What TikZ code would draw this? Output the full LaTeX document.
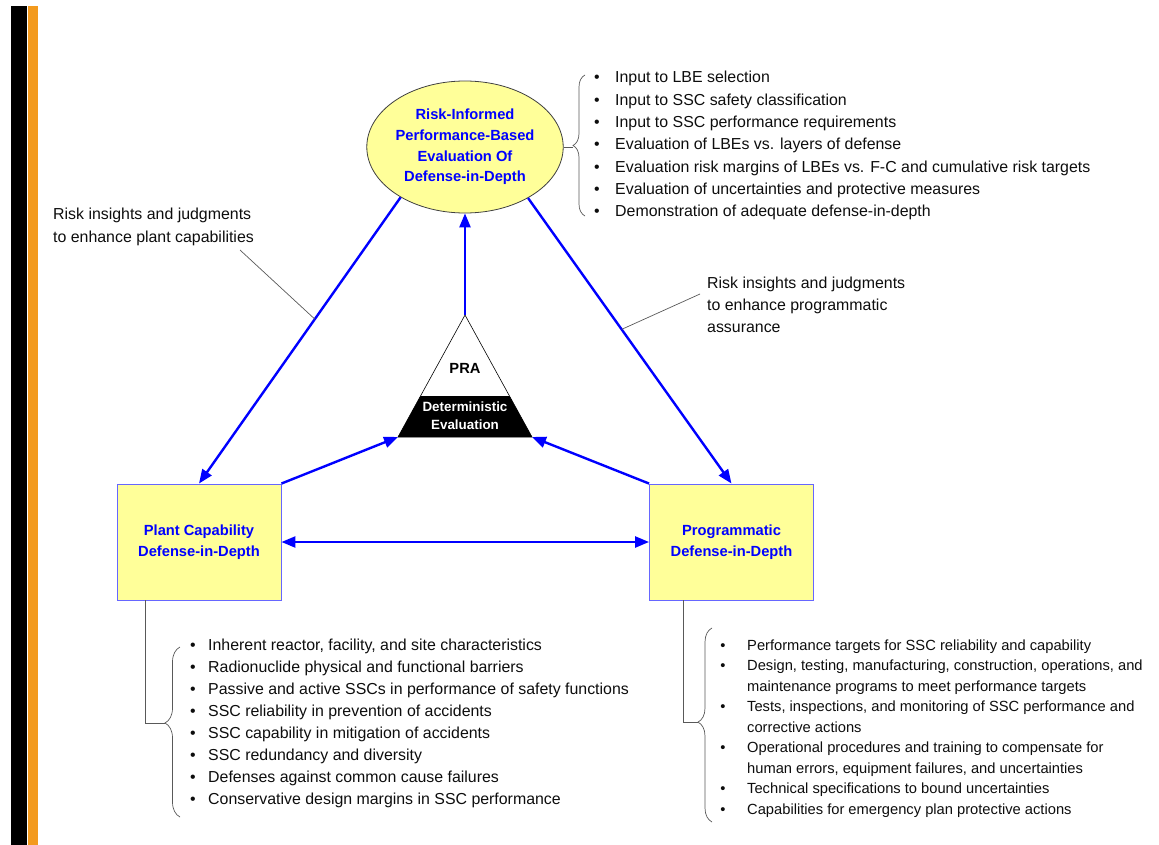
\documentclass[tikz,border=0pt]{standalone}
\usepackage{fontspec}
\setmainfont{Liberation Sans}
\usetikzlibrary{arrows.meta,calc,decorations.pathreplacing,shapes.geometric}
\definecolor{pale}{HTML}{FFFF99}
\definecolor{bblue}{HTML}{0000FF}
\definecolor{boxedge}{HTML}{6666FF}
\definecolor{orangebar}{HTML}{F39A1E}
\definecolor{txt}{HTML}{0D0D0D}
\begin{document}
\begin{tikzpicture}[x=1pt,y=-1pt,
  arr/.style={bblue, line width=2.4pt, -{Triangle[length=14pt,width=11pt]}},
  dblarr/.style={bblue, line width=2.4pt, {Triangle[length=14pt,width=11pt]}-{Triangle[length=14pt,width=11pt]}},
  box/.style={rectangle, draw=boxedge, line width=0.9pt, fill=pale, minimum width=164pt, minimum height=116pt,
    text=bblue, align=center, font=\fontsize{14.7}{21}\selectfont\bfseries},
  conn/.style={draw=black!65, line width=0.7pt},
  bracestyle/.style={draw=black!65, line width=0.7pt, decorate},
  lt/.style={anchor=base west, inner sep=0pt, text=txt, font=\fontsize{15.9}{18}\selectfont},
  ltsmall/.style={anchor=base west, inner sep=0pt, text=txt, font=\fontsize{14.7}{18}\selectfont},
  bul/.style={anchor=base, inner sep=0pt, text=txt, font=\fontsize{15.9}{18}\selectfont},
  bulsmall/.style={anchor=base, inner sep=0pt, text=txt, font=\fontsize{14.7}{18}\selectfont}
]
\useasboundingbox (0,0) rectangle (1159,845);
\fill[black] (11,6) rectangle (27,845);
\fill[orangebar] (28,6) rectangle (38,845);

% main nodes
\node[ellipse, draw=black!75, line width=0.8pt, fill=pale, minimum width=176pt, minimum height=132pt,
  inner sep=0pt, text=bblue, align=center, font=\fontsize{14.7}{20.7}\selectfont\bfseries]
  (E) at (465,147) {Risk-Informed\\Performance-Based\\Evaluation Of\\Defense-in-Depth};
\node[box] (L) at (199,542) {Plant Capability\\Defense-in-Depth};
\node[box] (R) at (731.5,542) {Programmatic\\Defense-in-Depth};

% triangle
\coordinate (apex) at (465,315);
\coordinate (bl) at (398,437);
\coordinate (br) at (532,437);
\fill[black] ($(apex)!0.664!(bl)$) -- ($(apex)!0.664!(br)$) -- (br) -- (bl) -- cycle;
\draw[line width=0.6pt] (apex) -- (bl) -- (br) -- cycle;
\node[inner sep=0pt, font=\fontsize{14.7}{18}\selectfont\bfseries] (pra) at (465,368) {PRA};
\node[inner sep=0pt, text=white, align=center, font=\fontsize{13.4}{18}\selectfont\bfseries] (det) at (465,416) {Deterministic\\Evaluation};

% arrows
\draw[arr] (E.218.7) -- (L.north);
\draw[arr] (E.321.3) -- (R.north);
\draw[arr] (apex) -- (E.south);
\draw[arr] (L.north east) -- (bl);
\draw[arr] (R.north west) -- (br);
\draw[dblarr] (L.east) -- (R.west);

% side labels
\node[lt] (lab1a) at (53,220) {Risk insights and judgments};
\node[lt] (lab1b) at (53,243) {to enhance plant capabilities};
\coordinate (lk1) at (240,250);
\draw[conn] (lk1) -- ($(E.218.7)!0.4256!(L.north)$);
\node[lt] (lab2a) at (707,288) {Risk insights and judgments};
\node[lt] (lab2b) at (707,310) {to enhance programmatic};
\node[lt] (lab2c) at (707,332) {assurance};
\coordinate (lk2) at (700,294);
\draw[conn] (lk2) -- ($(E.321.3)!0.46!(R.north)$);

% top-right list
\coordinate (b1) at (573,147);
\draw[conn] (E.east) -- (b1);
\draw[bracestyle, decoration={brace, amplitude=12pt, aspect=0.5}] (585,216) -- (585,75);
\foreach \t [count=\i from 0] in {Input to LBE selection, Input to SSC safety classification,
  Input to SSC performance requirements, Evaluation of LBEs vs. layers of defense,
  Evaluation risk margins of LBEs vs. F-C and cumulative risk targets,
  Evaluation of uncertainties and protective measures, Demonstration of adequate defense-in-depth} {
  \node[bul] (tb\i) at (597,{83+22.3*\i}) {\textbullet};
  \node[lt] (tt\i) at (615,{83+22.3*\i}) {\t};
}

% lower-left list
\coordinate (b2) at (165,723);
\draw[conn] ($(L.south west)!0.177!(L.south east)$) |- (b2);
\draw[bracestyle, decoration={brace, amplitude=15pt, aspect=0.553}] (180,817) -- (180,647);
\foreach \t [count=\i from 0] in {{Inherent reactor, facility, and site characteristics},
  Radionuclide physical and functional barriers,
  Passive and active SSCs in performance of safety functions,
  SSC reliability in prevention of accidents, SSC capability in mitigation of accidents,
  SSC redundancy and diversity, Defenses against common cause failures,
  Conservative design margins in SSC performance} {
  \node[bul] (lb\i) at (193,{650+22.1*\i}) {\textbullet};
  \node[lt] (lt\i) at (208,{650+22.1*\i}) {\t};
}

% lower-right list
\coordinate (b3) at (698,722);
\draw[conn] ($(R.south west)!0.209!(R.south east)$) |- (b3);
\draw[bracestyle, decoration={brace, amplitude=14pt, aspect=0.515}] (712,822) -- (712,628);
\foreach \b/\t [count=\i from 0] in {1/Performance targets for SSC reliability and capability,
  1/{Design, testing, manufacturing, construction, operations, and},
  0/maintenance programs to meet performance targets,
  1/{Tests, inspections, and monitoring of SSC performance and},
  0/corrective actions,
  1/Operational procedures and training to compensate for,
  0/{human errors, equipment failures, and uncertainties},
  1/Technical specifications to bound uncertainties,
  1/Capabilities for emergency plan protective actions} {
  \ifnum\b=1 \node[bulsmall] (rb\i) at (723,{650+20.5*\i}) {\textbullet};\fi
  \node[ltsmall] (rt\i) at (747,{650+20.5*\i}) {\t};
}
\end{tikzpicture}
\end{document}
